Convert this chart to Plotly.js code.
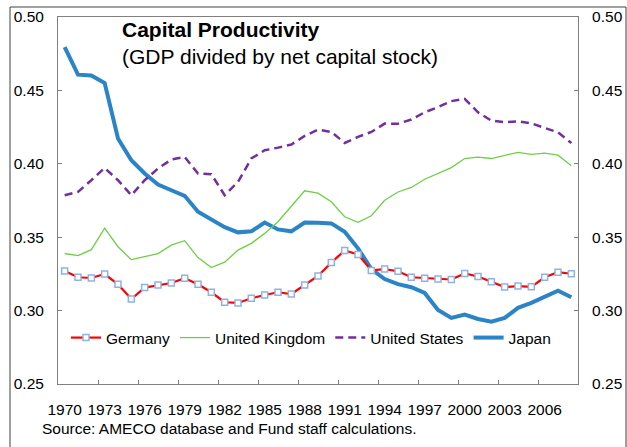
<!DOCTYPE html>
<html>
<head>
<meta charset="utf-8">
<script src="https://cdn.plot.ly/plotly-3.0.1.min.js"></script>
<style>html,body{margin:0;padding:0;background:#fff;}#chart{width:627px;height:447px;}</style>
</head>
<body>
<div id="chart"></div>
<script>
const years = [];
for (let y = 1970; y <= 2008; y++) years.push(y);

const germany = [0.327,0.3227,0.3222,0.3249,0.3179,0.3079,0.3157,0.3174,0.3188,0.322,
  0.3179,0.3125,0.3057,0.3052,0.3084,0.3106,0.3125,0.3113,0.3174,0.3236,
  0.3327,0.341,0.3383,0.3274,0.3283,0.3268,0.3227,0.3221,0.3216,0.3212,
  0.3253,0.3232,0.3196,0.316,0.3167,0.3162,0.3227,0.3262,0.3251];

const unitedKingdom = [0.3389,0.3374,0.3415,0.3562,0.3435,0.3347,0.3367,0.3388,0.3446,0.3476,
  0.3361,0.3293,0.333,0.3412,0.3458,0.3526,0.3605,0.3707,0.3816,0.38,
  0.3741,0.3639,0.3601,0.3646,0.3752,0.3808,0.3839,0.3895,0.3934,0.3974,
  0.4036,0.4046,0.4036,0.4059,0.4078,0.4064,0.4073,0.4059,0.3987];

const unitedStates = [0.3786,0.3809,0.3888,0.3972,0.3888,0.3786,0.3888,0.3968,0.4029,0.4047,
  0.3934,0.3929,0.3786,0.3877,0.4036,0.4092,0.411,0.4131,0.419,0.4233,
  0.4217,0.4142,0.4183,0.4217,0.4274,0.4273,0.4302,0.4351,0.4386,0.4427,
  0.4443,0.4351,0.4294,0.4283,0.429,0.4276,0.4244,0.4214,0.4142];

const japan = [0.4795,0.4607,0.4602,0.455,0.4172,0.4024,0.3934,0.3859,0.382,0.3782,
  0.3673,0.3623,0.3568,0.3533,0.354,0.36,0.3553,0.354,0.36,0.3598,
  0.3594,0.3537,0.3424,0.3283,0.3215,0.318,0.3159,0.312,0.3004,0.295,
  0.2973,0.2943,0.2925,0.295,0.3019,0.3053,0.3096,0.3136,0.3091];

const xTickYears = [1970,1973,1976,1979,1982,1985,1988,1991,1994,1997,2000,2003,2006];
const xTickLabels = xTickYears.map(String);
const yTicks = [0.25,0.30,0.35,0.40,0.45,0.50];
const yTickLabels = ['0.25','0.30','0.35','0.40','0.45','0.50'];

const titleMain = 'Capital Productivity';
const titleSub = '(GDP divided by net capital stock)';
const sourceText = 'Source: AMECO database and Fund staff calculations.';

const FONT = 'Liberation Sans, Arial, sans-serif';

const traces = [
  {x: years, y: japan, name: 'Japan', type: 'scatter', mode: 'lines',
   line: {color: '#2A84C6', width: 4}, legendrank: 4},
  {x: years, y: unitedStates, name: 'United States', type: 'scatter', mode: 'lines',
   line: {color: '#7030A0', width: 2.5, dash: '8px,5px'}, legendrank: 3},
  {x: years, y: unitedKingdom, name: 'United Kingdom', type: 'scatter', mode: 'lines',
   line: {color: '#6ECF46', width: 1.3}, legendrank: 2},
  {x: years, y: germany, name: 'Germany', type: 'scatter', mode: 'lines+markers',
   line: {color: '#FF0000', width: 2.2},
   marker: {symbol: 'square', size: 6, color: '#FFFFFF', line: {color: '#8DB3E2', width: 1.5}},
   legendrank: 1},
  // invisible trace to activate the secondary axes (right y axis, bottom tick marks)
  {x: years, y: japan, xaxis: 'x2', yaxis: 'y2', type: 'scatter', mode: 'lines',
   line: {width: 0}, opacity: 0, showlegend: false, hoverinfo: 'skip'}
];

const L = 58, R = 578, T = 17, B = 384, W = 627, H = 447;
const px = v => (v - L) / (R - L);
const py = v => (B - v) / (B - T);

const tickBoundaries = [];
for (let y = 1972.5; y < 2008; y += 3) tickBoundaries.push(y);

const layout = {
  width: W, height: H,
  margin: {l: L, r: W - R, t: T, b: H - B, pad: 0},
  paper_bgcolor: '#FFFFFF', plot_bgcolor: '#FFFFFF',
  font: {family: FONT, size: 15.5, color: '#000000'},
  showlegend: true,
  legend: {orientation: 'h', x: px(66), y: py(338), xanchor: 'left', yanchor: 'middle',
           bgcolor: 'rgba(0,0,0,0)', itemgap: 0, font: {family: FONT, size: 15.5, color: '#000'},
           traceorder: 'normal'},
  title: {text: '<b>' + titleMain + '</b><br>' + titleSub, xref: 'paper', x: px(122), xanchor: 'left',
          yref: 'container', y: 1 - 37 / H, yanchor: 'top',
          font: {family: FONT, size: 21, color: '#000'}},
  xaxis: {range: [1969.5, 2008.5], tickvals: xTickYears, ticktext: xTickLabels, ticks: '',
          showgrid: false, zeroline: false, showline: true, linecolor: '#808080', linewidth: 1,
          mirror: true, ticklabelstandoff: 11, tickfont: {family: FONT, size: 15.5, color: '#000'}},
  xaxis2: {range: [1969.5, 2008.5], overlaying: 'x', side: 'bottom', tickvals: tickBoundaries,
           ticks: 'inside', ticklen: 4, tickcolor: '#808080', showticklabels: false,
           showgrid: false, zeroline: false, showline: false},
  yaxis: {range: [0.25, 0.50], tickvals: yTicks, ticktext: yTickLabels, ticks: 'inside', ticklen: 4,
          tickcolor: '#808080', showgrid: false, zeroline: false, showline: true,
          linecolor: '#808080', linewidth: 1, ticklabelstandoff: 10,
          tickfont: {family: FONT, size: 15.5, color: '#000'}},
  yaxis2: {range: [0.25, 0.50], tickvals: yTicks, ticktext: yTickLabels, overlaying: 'y', side: 'right',
           anchor: 'x2', ticks: 'inside', ticklen: 4, tickcolor: '#808080', showgrid: false,
           zeroline: false, showline: true, linecolor: '#808080', linewidth: 1, ticklabelstandoff: 10,
           tickfont: {family: FONT, size: 15.5, color: '#000'}},
  annotations: [
    {text: sourceText, xref: 'paper', yref: 'paper', x: px(40), y: py(428), xanchor: 'left',
     yanchor: 'middle', showarrow: false, font: {family: FONT, size: 15.5, color: '#000'}}
  ],
  shapes: [
    {type: 'rect', xref: 'paper', yref: 'paper', x0: px(10), x1: px(626), y0: py(460), y1: py(7),
     line: {color: '#404040', width: 1}, fillcolor: 'rgba(0,0,0,0)', layer: 'below'}
  ]
};

Plotly.newPlot('chart', traces, layout, {displayModeBar: false, staticPlot: true});
</script>
</body>
</html>
